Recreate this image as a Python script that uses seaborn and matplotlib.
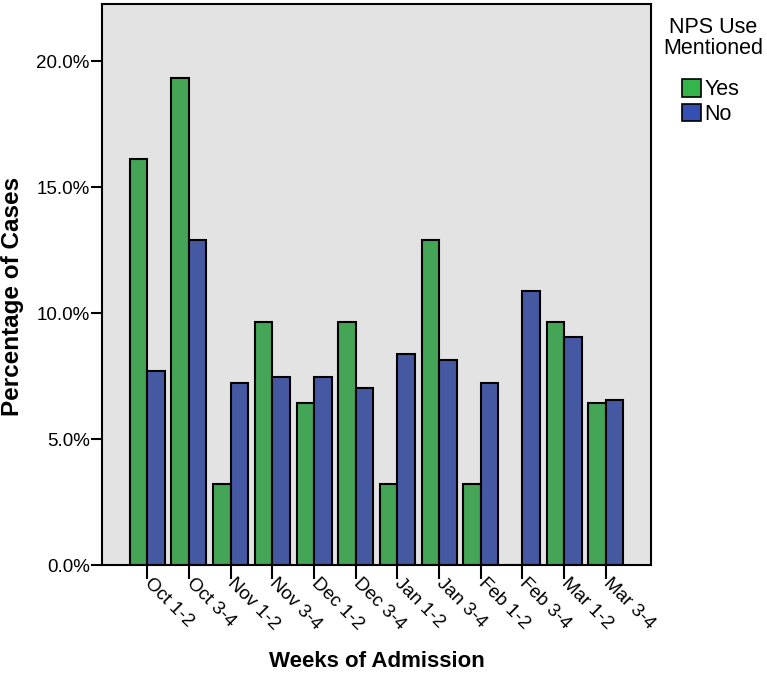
import pandas as pd
import matplotlib
matplotlib.use("Agg")
import matplotlib.pyplot as plt
from matplotlib.patches import Patch
import seaborn as sns

sns.set_style("white")
plt.rcParams["font.family"] = ["Liberation Sans", "DejaVu Sans"]
plt.rcParams["text.color"] = "black"
plt.rcParams["axes.labelcolor"] = "black"
plt.rcParams["xtick.color"] = "black"
plt.rcParams["ytick.color"] = "black"

# data (percentage of cases per group)
weeks = ["Oct 1-2", "Oct 3-4", "Nov 1-2", "Nov 3-4", "Dec 1-2", "Dec 3-4",
         "Jan 1-2", "Jan 3-4", "Feb 1-2", "Feb 3-4", "Mar 1-2", "Mar 3-4"]
pct_yes = [16.13, 19.35, 3.23, 9.68, 6.45, 9.68, 3.23, 12.90, 3.23, 0.0, 9.68, 6.45]
pct_no = [7.73, 12.93, 7.25, 7.48, 7.48, 7.03, 8.39, 8.17, 7.25, 10.89, 9.07, 6.58]
groups = ["Yes", "No"]
yticks = [0, 5, 10, 15, 20]

df = pd.DataFrame({
    "week": weeks * 2,
    "pct": pct_yes + pct_no,
    "nps": ["Yes"] * len(weeks) + ["No"] * len(weeks),
})

colors = {"Yes": "#33b54b", "No": "#3550b2"}

fig = plt.figure(figsize=(7.67, 6.74), dpi=100)
ax = fig.add_axes([0.1334, 0.1610, 0.7150, 0.8331])
ax.set_facecolor("#e3e3e3")

sns.barplot(data=df, x="week", y="pct", hue="nps", hue_order=groups,
            palette=colors, edgecolor="black", linewidth=1.5,
            width=0.84, gap=0, legend=False, ax=ax)

ax.set_xlim(-1.08, 12.08)
ax.set_ylim(0, 22.28)
ax.set_yticks(yticks)
ax.set_yticklabels([f"{v:.1f}%" for v in yticks])

for s in ax.spines.values():
    s.set_color("black")
    s.set_linewidth(1.5)

ax.tick_params(axis="y", direction="out", length=8, width=1.5,
               labelsize=13.5, pad=1, left=True)
ax.tick_params(axis="x", direction="out", length=10, width=1.5,
               labelsize=13.5, pad=1, bottom=True)
plt.setp(ax.get_xticklabels(), rotation=-45, ha="left", va="center",
         rotation_mode="anchor")

ax.set_xlabel("Weeks of Admission", fontsize=16, fontweight="bold")
ax.set_ylabel("Percentage of Cases", fontsize=17.5, fontweight="bold")
ax.xaxis.set_label_coords(0.5, -0.152)
ax.yaxis.set_label_coords(-0.143, 0.48)

# legend outside on the right
fig.text(713 / 767, 1 - 38 / 674, "NPS Use\nMentioned", ha="center",
         va="center", fontsize=15.5, linespacing=1.05)
handles = [Patch(facecolor=colors[g], edgecolor="black", linewidth=1.2)
           for g in groups]
fig.legend(handles, groups, loc="center left",
           bbox_to_anchor=(682 / 767, 1 - 102 / 674), frameon=False,
           fontsize=15.5, handlelength=0.9, handleheight=0.9,
           handletextpad=0.15, labelspacing=0.15, borderpad=0,
           borderaxespad=0)

fig.savefig("out.png", dpi=100)
